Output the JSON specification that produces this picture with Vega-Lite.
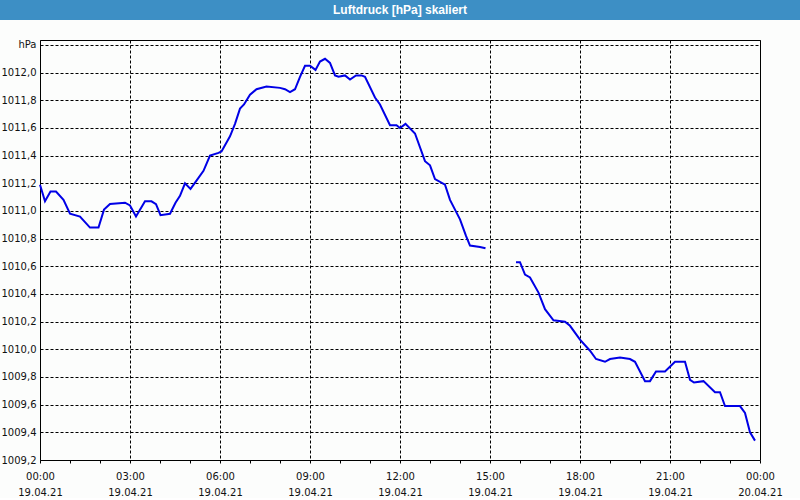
{
  "$schema": "https://vega.github.io/schema/vega-lite/v6.json",
  "background": "#fcfdfc",
  "padding": 0,
  "bounds": "flush",
  "spacing": 20,
  "config": {
    "font": "DejaVu Sans",
    "axis": {"labelFont": "DejaVu Sans", "labelFontSize": 10, "labelColor": "#111111"}
  },
  "vconcat": [
    {
      "width": 800,
      "height": 20,
      "view": {"fill": "#3d8fc5", "stroke": null},
      "data": {"values": [{"title": "Luftdruck [hPa] skaliert"}]},
      "mark": {"type": "text", "color": "white", "font": "Liberation Sans", "fontWeight": "bold", "fontSize": 12, "baseline": "middle", "align": "center"},
      "encoding": {"text": {"field": "title"}}
    },
    {
      "bounds": "flush",
      "spacing": 0,
      "hconcat": [
        {
          "width": 40,
          "height": 420,
          "view": {"stroke": null, "fill": null},
          "data": {"values": []},
          "mark": "point"
        },
        {
          "width": 720,
          "height": 420,
          "view": {"fill": "#fcfdfc", "stroke": "black", "strokeWidth": 1},
          "data": {"values": [
            {"t": "2021-04-19T00:00:00Z", "p": 1011.19, "seg": 1},
            {"t": "2021-04-19T00:10:00Z", "p": 1011.07, "seg": 1},
            {"t": "2021-04-19T00:21:00Z", "p": 1011.14, "seg": 1},
            {"t": "2021-04-19T00:32:00Z", "p": 1011.14, "seg": 1},
            {"t": "2021-04-19T00:47:00Z", "p": 1011.08, "seg": 1},
            {"t": "2021-04-19T01:00:00Z", "p": 1010.98, "seg": 1},
            {"t": "2021-04-19T01:20:00Z", "p": 1010.96, "seg": 1},
            {"t": "2021-04-19T01:40:00Z", "p": 1010.88, "seg": 1},
            {"t": "2021-04-19T01:57:00Z", "p": 1010.88, "seg": 1},
            {"t": "2021-04-19T02:08:00Z", "p": 1011.01, "seg": 1},
            {"t": "2021-04-19T02:20:00Z", "p": 1011.05, "seg": 1},
            {"t": "2021-04-19T02:50:00Z", "p": 1011.06, "seg": 1},
            {"t": "2021-04-19T03:00:00Z", "p": 1011.04, "seg": 1},
            {"t": "2021-04-19T03:12:00Z", "p": 1010.96, "seg": 1},
            {"t": "2021-04-19T03:30:00Z", "p": 1011.07, "seg": 1},
            {"t": "2021-04-19T03:43:00Z", "p": 1011.07, "seg": 1},
            {"t": "2021-04-19T03:52:00Z", "p": 1011.05, "seg": 1},
            {"t": "2021-04-19T04:01:00Z", "p": 1010.97, "seg": 1},
            {"t": "2021-04-19T04:20:00Z", "p": 1010.98, "seg": 1},
            {"t": "2021-04-19T04:31:00Z", "p": 1011.06, "seg": 1},
            {"t": "2021-04-19T04:40:00Z", "p": 1011.11, "seg": 1},
            {"t": "2021-04-19T04:50:00Z", "p": 1011.2, "seg": 1},
            {"t": "2021-04-19T05:01:00Z", "p": 1011.16, "seg": 1},
            {"t": "2021-04-19T05:13:00Z", "p": 1011.22, "seg": 1},
            {"t": "2021-04-19T05:27:00Z", "p": 1011.29, "seg": 1},
            {"t": "2021-04-19T05:40:00Z", "p": 1011.4, "seg": 1},
            {"t": "2021-04-19T05:57:00Z", "p": 1011.42, "seg": 1},
            {"t": "2021-04-19T06:03:00Z", "p": 1011.43, "seg": 1},
            {"t": "2021-04-19T06:20:00Z", "p": 1011.54, "seg": 1},
            {"t": "2021-04-19T06:30:00Z", "p": 1011.63, "seg": 1},
            {"t": "2021-04-19T06:40:00Z", "p": 1011.74, "seg": 1},
            {"t": "2021-04-19T06:48:00Z", "p": 1011.77, "seg": 1},
            {"t": "2021-04-19T07:00:00Z", "p": 1011.84, "seg": 1},
            {"t": "2021-04-19T07:13:00Z", "p": 1011.88, "seg": 1},
            {"t": "2021-04-19T07:33:00Z", "p": 1011.9, "seg": 1},
            {"t": "2021-04-19T08:00:00Z", "p": 1011.89, "seg": 1},
            {"t": "2021-04-19T08:10:00Z", "p": 1011.88, "seg": 1},
            {"t": "2021-04-19T08:20:00Z", "p": 1011.86, "seg": 1},
            {"t": "2021-04-19T08:30:00Z", "p": 1011.88, "seg": 1},
            {"t": "2021-04-19T08:40:00Z", "p": 1011.97, "seg": 1},
            {"t": "2021-04-19T08:50:00Z", "p": 1012.05, "seg": 1},
            {"t": "2021-04-19T09:00:00Z", "p": 1012.05, "seg": 1},
            {"t": "2021-04-19T09:11:00Z", "p": 1012.02, "seg": 1},
            {"t": "2021-04-19T09:20:00Z", "p": 1012.08, "seg": 1},
            {"t": "2021-04-19T09:30:00Z", "p": 1012.1, "seg": 1},
            {"t": "2021-04-19T09:40:00Z", "p": 1012.07, "seg": 1},
            {"t": "2021-04-19T09:50:00Z", "p": 1011.98, "seg": 1},
            {"t": "2021-04-19T09:57:00Z", "p": 1011.97, "seg": 1},
            {"t": "2021-04-19T10:10:00Z", "p": 1011.98, "seg": 1},
            {"t": "2021-04-19T10:20:00Z", "p": 1011.95, "seg": 1},
            {"t": "2021-04-19T10:32:00Z", "p": 1011.98, "seg": 1},
            {"t": "2021-04-19T10:43:00Z", "p": 1011.98, "seg": 1},
            {"t": "2021-04-19T10:50:00Z", "p": 1011.97, "seg": 1},
            {"t": "2021-04-19T11:10:00Z", "p": 1011.82, "seg": 1},
            {"t": "2021-04-19T11:20:00Z", "p": 1011.77, "seg": 1},
            {"t": "2021-04-19T11:40:00Z", "p": 1011.62, "seg": 1},
            {"t": "2021-04-19T11:53:00Z", "p": 1011.62, "seg": 1},
            {"t": "2021-04-19T12:00:00Z", "p": 1011.6, "seg": 1},
            {"t": "2021-04-19T12:11:00Z", "p": 1011.63, "seg": 1},
            {"t": "2021-04-19T12:30:00Z", "p": 1011.56, "seg": 1},
            {"t": "2021-04-19T12:50:00Z", "p": 1011.36, "seg": 1},
            {"t": "2021-04-19T13:00:00Z", "p": 1011.33, "seg": 1},
            {"t": "2021-04-19T13:10:00Z", "p": 1011.23, "seg": 1},
            {"t": "2021-04-19T13:30:00Z", "p": 1011.19, "seg": 1},
            {"t": "2021-04-19T13:40:00Z", "p": 1011.08, "seg": 1},
            {"t": "2021-04-19T14:00:00Z", "p": 1010.94, "seg": 1},
            {"t": "2021-04-19T14:12:00Z", "p": 1010.82, "seg": 1},
            {"t": "2021-04-19T14:20:00Z", "p": 1010.75, "seg": 1},
            {"t": "2021-04-19T14:40:00Z", "p": 1010.74, "seg": 1},
            {"t": "2021-04-19T14:51:00Z", "p": 1010.73, "seg": 1},
            {"t": "2021-04-19T15:52:00Z", "p": 1010.63, "seg": 2},
            {"t": "2021-04-19T16:00:00Z", "p": 1010.63, "seg": 2},
            {"t": "2021-04-19T16:10:00Z", "p": 1010.54, "seg": 2},
            {"t": "2021-04-19T16:20:00Z", "p": 1010.52, "seg": 2},
            {"t": "2021-04-19T16:37:00Z", "p": 1010.41, "seg": 2},
            {"t": "2021-04-19T16:50:00Z", "p": 1010.29, "seg": 2},
            {"t": "2021-04-19T17:07:00Z", "p": 1010.21, "seg": 2},
            {"t": "2021-04-19T17:30:00Z", "p": 1010.2, "seg": 2},
            {"t": "2021-04-19T17:40:00Z", "p": 1010.17, "seg": 2},
            {"t": "2021-04-19T18:00:00Z", "p": 1010.07, "seg": 2},
            {"t": "2021-04-19T18:20:00Z", "p": 1009.99, "seg": 2},
            {"t": "2021-04-19T18:32:00Z", "p": 1009.93, "seg": 2},
            {"t": "2021-04-19T18:50:00Z", "p": 1009.91, "seg": 2},
            {"t": "2021-04-19T19:00:00Z", "p": 1009.93, "seg": 2},
            {"t": "2021-04-19T19:20:00Z", "p": 1009.94, "seg": 2},
            {"t": "2021-04-19T19:40:00Z", "p": 1009.93, "seg": 2},
            {"t": "2021-04-19T19:50:00Z", "p": 1009.91, "seg": 2},
            {"t": "2021-04-19T20:10:00Z", "p": 1009.77, "seg": 2},
            {"t": "2021-04-19T20:20:00Z", "p": 1009.77, "seg": 2},
            {"t": "2021-04-19T20:32:00Z", "p": 1009.84, "seg": 2},
            {"t": "2021-04-19T20:50:00Z", "p": 1009.84, "seg": 2},
            {"t": "2021-04-19T21:10:00Z", "p": 1009.91, "seg": 2},
            {"t": "2021-04-19T21:30:00Z", "p": 1009.91, "seg": 2},
            {"t": "2021-04-19T21:40:00Z", "p": 1009.78, "seg": 2},
            {"t": "2021-04-19T21:48:00Z", "p": 1009.76, "seg": 2},
            {"t": "2021-04-19T22:07:00Z", "p": 1009.77, "seg": 2},
            {"t": "2021-04-19T22:30:00Z", "p": 1009.69, "seg": 2},
            {"t": "2021-04-19T22:40:00Z", "p": 1009.69, "seg": 2},
            {"t": "2021-04-19T22:50:00Z", "p": 1009.59, "seg": 2},
            {"t": "2021-04-19T23:20:00Z", "p": 1009.59, "seg": 2},
            {"t": "2021-04-19T23:30:00Z", "p": 1009.54, "seg": 2},
            {"t": "2021-04-19T23:40:00Z", "p": 1009.4, "seg": 2},
            {"t": "2021-04-19T23:50:00Z", "p": 1009.34, "seg": 2}
          ]},
          "mark": {"type": "line", "color": "#0000e6", "strokeWidth": 2, "interpolate": "linear"},
          "encoding": {
            "x": {
              "field": "t", "type": "temporal", "title": null,
              "scale": {"type": "utc", "domain": ["2021-04-19T00:00:00Z", "2021-04-20T00:00:00Z"], "nice": false},
              "axis": {
                "tickCount": 24,
                "domain": false,
                "ticks": true, "tickSize": 3, "tickColor": "black",
                "labelPadding": 8,
                "labelOverlap": false,
                "labelFlush": false,
                "labelBaseline": "top",
                "labelLineHeight": 16.5,
                "labelExpr": "utchours(datum.value) % 3 == 0 ? [utcFormat(datum.value, '%H:%M'), utcFormat(datum.value, '%d.%m.%y')] : ''",
                "grid": true,
                "gridColor": {"condition": {"test": "utchours(datum.value) % 3 == 0", "value": "black"}, "value": "transparent"},
                "gridDash": [3, 2]
              }
            },
            "y": {
              "field": "p", "type": "quantitative", "title": null,
              "scale": {"domain": [1009.2, 1012.236], "nice": false, "zero": false},
              "axis": {
                "values": [1009.2, 1009.4, 1009.6, 1009.8, 1010.0, 1010.2, 1010.4, 1010.6, 1010.8, 1011.0, 1011.2, 1011.4, 1011.6, 1011.8, 1012.0, 1012.2],
                "domain": false,
                "ticks": false,
                "labelPadding": 4,
                "labelOverlap": false,
                "labelFlush": false,
                "labelExpr": "datum.value > 1012.1 ? 'hPa' : replace(format(datum.value, '.1f'), '.', ',')",
                "grid": true,
                "gridColor": "black",
                "gridDash": [3, 2],
                "gridOpacity": 1
              }
            },
            "detail": {"field": "seg", "type": "nominal"}
          }
        }
      ]
    }
  ]
}
